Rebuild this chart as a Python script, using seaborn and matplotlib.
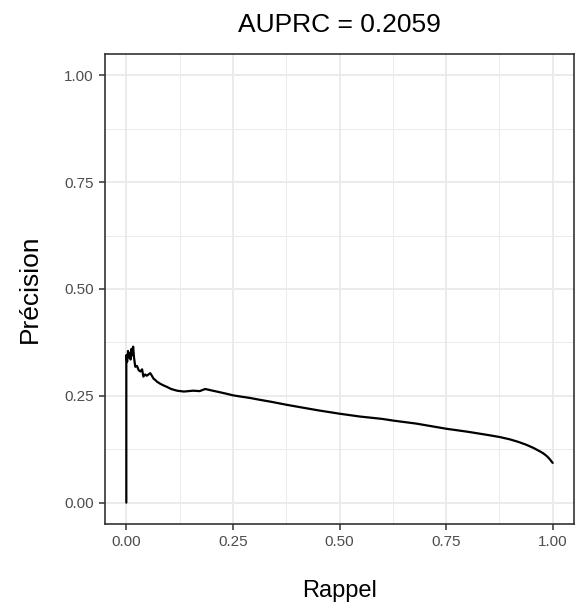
import matplotlib
matplotlib.use("Agg")
import matplotlib.pyplot as plt
import seaborn as sns
import pandas as pd
import numpy as np

# Precision-recall curve
rappel = [0.000, 0.000, 0.002, 0.004, 0.006, 0.008, 0.010, 0.012, 0.014, 0.016,
          0.018, 0.021, 0.025, 0.029, 0.033, 0.037, 0.040, 0.044, 0.048, 0.052,
          0.056, 0.060, 0.064, 0.068, 0.072, 0.080, 0.088, 0.095, 0.105, 0.119,
          0.135, 0.157, 0.172, 0.185, 0.198, 0.212, 0.230, 0.251, 0.270, 0.290,
          0.314, 0.340, 0.376, 0.410, 0.450, 0.501, 0.548, 0.600, 0.626, 0.680,
          0.750, 0.800, 0.850, 0.876, 0.900, 0.920, 0.938, 0.955, 0.970, 0.977,
          0.985, 0.992, 1.000]
precision = [0.000, 0.345, 0.330, 0.355, 0.340, 0.350, 0.335, 0.360, 0.345, 0.365,
             0.340, 0.318, 0.320, 0.310, 0.307, 0.312, 0.295, 0.300, 0.297, 0.300,
             0.303, 0.297, 0.290, 0.287, 0.283, 0.278, 0.274, 0.271, 0.266, 0.262,
             0.260, 0.262, 0.261, 0.266, 0.263, 0.260, 0.256, 0.251, 0.248, 0.245,
             0.2405, 0.236, 0.229, 0.223, 0.216, 0.208, 0.2015, 0.196, 0.192, 0.185,
             0.173, 0.166, 0.158, 0.1535, 0.148, 0.142, 0.1355, 0.128, 0.120, 0.116,
             0.110, 0.103, 0.093]

x_ticks = [0.00, 0.25, 0.50, 0.75, 1.00]
y_ticks = [0.00, 0.25, 0.50, 0.75, 1.00]
tick_labels = ["0.00", "0.25", "0.50", "0.75", "1.00"]
title = "AUPRC = 0.2059"
xlabel = "Rappel"
ylabel = "Précision"

df = pd.DataFrame({"Rappel": rappel, "Précision": precision})

sns.set_theme(style="white")
plt.rcParams["font.family"] = ["Liberation Sans", "DejaVu Sans"]

fig = plt.figure(figsize=(5.76, 6.08), dpi=100)
ax = fig.add_axes([105 / 576, 1 - 524 / 608, (574 - 105) / 576, (524 - 54) / 608])

grid_col = "#EBEBEB"
for v in [0.125, 0.375, 0.625, 0.875]:
    ax.axvline(v, color=grid_col, lw=0.7, zorder=0)
    ax.axhline(v, color=grid_col, lw=0.7, zorder=0)
for v in x_ticks:
    ax.axvline(v, color=grid_col, lw=1.4, zorder=0)
for v in y_ticks:
    ax.axhline(v, color=grid_col, lw=1.4, zorder=0)

sns.lineplot(data=df, x="Rappel", y="Précision", sort=False, estimator=None,
             color="black", linewidth=1.6, ax=ax, zorder=3)

ax.set_xlim(-0.05, 1.05)
ax.set_ylim(-0.05, 1.05)
ax.set_xticks(x_ticks)
ax.set_yticks(y_ticks)
ax.set_xticklabels(tick_labels)
ax.set_yticklabels(tick_labels)
ax.tick_params(axis="both", which="major", length=4, width=1.1, color="#333333",
               labelcolor="#4D4D4D", labelsize=11, pad=4, bottom=True, left=True)
for s in ax.spines.values():
    s.set_color("#333333")
    s.set_linewidth(1.2)

ax.set_xlabel(xlabel, fontsize=17, color="black", labelpad=22)
ax.set_ylabel(ylabel, fontsize=19, color="black", labelpad=16)
ax.set_title(title, fontsize=19, color="black", pad=16)

fig.savefig("out.png", dpi=100, facecolor="white")
